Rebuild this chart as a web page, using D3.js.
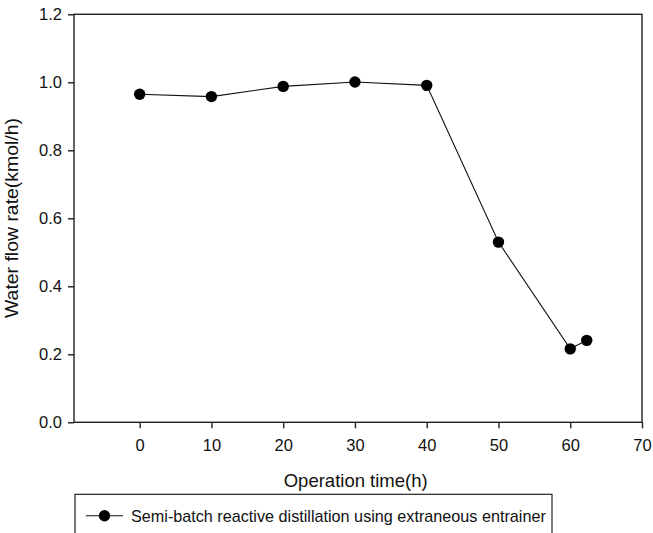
<!DOCTYPE html>
<html>
<head>
<meta charset="utf-8">
<script src="https://cdn.jsdelivr.net/npm/d3@7"></script>
<style>
  html, body { margin: 0; padding: 0; background: #fff; }
  svg { display: block; font-family: Arial, "Liberation Sans", sans-serif; }
</style>
</head>
<body>
<svg id="chart" width="653" height="533"></svg>
<script>
// Operation time (h) and measured water flow rate (kmol/h)
const hours = [0, 10, 20, 30, 40, 50, 60, 62.3];
const waterFlow = [0.965, 0.958, 0.988, 1.001, 0.991, 0.530, 0.216, 0.241];
const xTicks = [0, 10, 20, 30, 40, 50, 60, 70];
const yTicks = [0, 0.2, 0.4, 0.6, 0.8, 1.0, 1.2];
const seriesName = "Semi-batch reactive distillation using extraneous entrainer";

const svg = d3.select("#chart");
const plotLeft = 74, plotRight = 642, plotTop = 14.3, plotBottom = 422.3;

const x = d3.scaleLinear().domain([-9.15, 70]).range([plotLeft, plotRight]);
const y = d3.scaleLinear().domain([0, 1.2]).range([plotBottom, plotTop]);

const axisColor = "#222";

// frame
svg.append("rect")
  .attr("x", plotLeft).attr("y", plotTop)
  .attr("width", plotRight - plotLeft).attr("height", plotBottom - plotTop)
  .attr("fill", "none").attr("stroke", axisColor).attr("stroke-width", 1.4);

const xAxis = svg.append("g")
  .attr("transform", `translate(0,${plotBottom})`)
  .call(d3.axisBottom(x).tickValues(xTicks).tickFormat(d3.format("d"))
    .tickSize(6).tickPadding(11));
const yAxis = svg.append("g")
  .attr("transform", `translate(${plotLeft},0)`)
  .call(d3.axisLeft(y).tickValues(yTicks).tickFormat(d3.format(".1f"))
    .tickSize(6).tickPadding(6));

[xAxis, yAxis].forEach(g => {
  g.select(".domain").remove();
  g.selectAll(".tick line").attr("stroke", axisColor).attr("stroke-width", 1.4);
  g.selectAll(".tick text")
    .attr("fill", "#111")
    .style("font-size", "16.5px")
    .style("font-family", "Arial, 'Liberation Sans', sans-serif");
});

// axis titles
svg.append("text")
  .attr("x", 355.7).attr("y", 486.5)
  .attr("text-anchor", "middle")
  .attr("fill", "#111")
  .style("font-size", "18.5px")
  .text("Operation time(h)");

svg.append("text")
  .attr("transform", `translate(18,218) rotate(-90)`)
  .attr("text-anchor", "middle")
  .attr("fill", "#111")
  .style("font-size", "17.5px")
  .attr("textLength", 200)
  .attr("lengthAdjust", "spacingAndGlyphs")
  .text("Water flow rate(kmol/h)");

// series line and markers
const pts = hours.map((h, i) => [h, waterFlow[i]]);
svg.append("path")
  .datum(pts)
  .attr("fill", "none")
  .attr("stroke", "#111")
  .attr("stroke-width", 1.1)
  .attr("d", d3.line().x(d => x(d[0])).y(d => y(d[1])));

svg.append("g").selectAll("circle")
  .data(pts)
  .join("circle")
  .attr("cx", d => x(d[0]))
  .attr("cy", d => y(d[1]))
  .attr("r", 5.7)
  .attr("fill", "#000");

// legend
const lg = svg.append("g");
lg.append("rect")
  .attr("x", 75).attr("y", 494.3)
  .attr("width", 477).attr("height", 60)
  .attr("fill", "#fff").attr("stroke", axisColor).attr("stroke-width", 1.2);
lg.append("line")
  .attr("x1", 86).attr("x2", 123).attr("y1", 515.7).attr("y2", 515.7)
  .attr("stroke", "#111").attr("stroke-width", 1.1);
lg.append("circle")
  .attr("cx", 104.5).attr("cy", 515.7).attr("r", 5.7).attr("fill", "#000");
lg.append("text")
  .attr("x", 131).attr("y", 521.5)
  .attr("fill", "#111")
  .style("font-size", "16.2px")
  .text(seriesName);
</script>
</body>
</html>
